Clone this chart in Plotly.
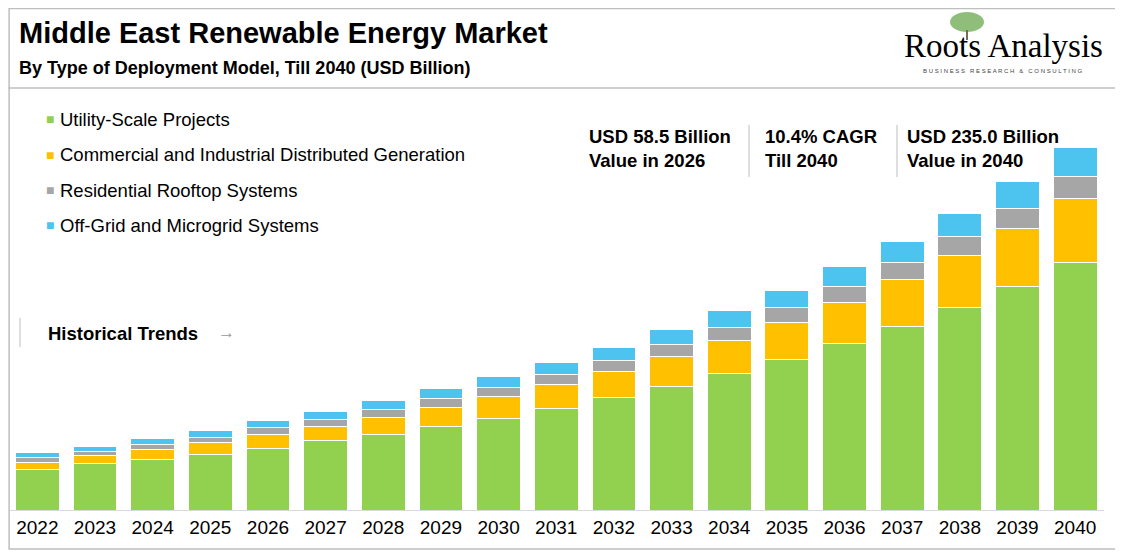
import plotly.graph_objects as go

years = [str(y) for y in range(2022, 2041)]
utility = [26.5, 29.8, 33.0, 36.2, 40.1, 44.7, 49.2, 54.4, 59.5, 66.0, 73.1, 80.3, 88.7, 97.7, 108.0, 119.0, 131.4, 145.0, 160.0]
commercial = [4.5, 5.2, 6.5, 7.8, 9.0, 9.7, 11.0, 12.3, 14.2, 15.5, 16.8, 19.4, 21.4, 23.9, 26.5, 30.4, 33.7, 37.5, 42.0]
residential = [3.2, 3.2, 3.2, 3.2, 4.5, 4.5, 5.2, 5.2, 5.8, 6.5, 7.1, 7.8, 8.4, 9.7, 10.4, 11.0, 12.3, 12.9, 14.2]
offgrid = [3.2, 3.2, 3.9, 4.5, 4.5, 5.2, 5.8, 6.5, 7.1, 7.8, 8.4, 9.7, 10.4, 11.0, 12.9, 13.6, 14.9, 17.5, 18.8]

names = ["Utility-Scale Projects", "Commercial and Industrial Distributed Generation",
         "Residential Rooftop Systems", "Off-Grid and Microgrid Systems"]
colors = ["#92d050", "#ffc000", "#a6a6a6", "#4dc3f0"]

# page body has an 8px margin, so the figure is drawn 8px in
OFF = 8
W, H = 1123 - OFF, 553 - OFF
def px(x): return (x - OFF) / W
def py(y): return 1 - (y - OFF) / H

fig = go.Figure()
for vals, name, col in zip([utility, commercial, residential, offgrid], names, colors):
    fig.add_bar(x=years, y=vals, name=name, marker_color=col,
                marker_line_color="white", marker_line_width=1)

fig.update_layout(
    barmode="stack", bargap=0.24, showlegend=False,
    width=W, height=H, margin=dict(l=0, r=0, t=0, b=0),
    plot_bgcolor="white", paper_bgcolor="white",
    font=dict(family="Arial, Liberation Sans", color="black"),
    xaxis=dict(domain=[px(8.5), px(1104)], showline=True, linecolor="#d9d9d9",
               tickfont=dict(size=19), ticks="", ticklen=0),
    yaxis=dict(domain=[py(510), py(124)], range=[0, 250], visible=False),
)

shapes = [
    dict(type="rect", xref="paper", yref="paper", x0=0.001, x1=px(1119), y0=py(549), y1=0.999,
         line=dict(color="#bfbfbf", width=1.5)),
    dict(type="line", xref="paper", yref="paper", x0=0, x1=px(1119), y0=py(88), y1=py(88),
         line=dict(color="#bfbfbf", width=1.5)),
    dict(type="line", xref="paper", yref="paper", x0=px(20), x1=px(20), y0=py(318), y1=py(347),
         line=dict(color="#bfbfbf", width=1)),
    dict(type="line", xref="paper", yref="paper", x0=px(749), x1=px(749), y0=py(125), y1=py(177),
         line=dict(color="#bfbfbf", width=1)),
    dict(type="line", xref="paper", yref="paper", x0=px(897), x1=px(897), y0=py(125), y1=py(177),
         line=dict(color="#bfbfbf", width=1)),
    dict(type="circle", xref="paper", yref="paper", x0=px(950), x1=px(984), y0=py(32), y1=py(12),
         fillcolor="#6aa84f", line_width=0, opacity=0.75),
    dict(type="line", xref="paper", yref="paper", x0=px(967), x1=px(967), y0=py(40), y1=py(30),
         line=dict(color="#7a6a55", width=2)),
]
fig.update_layout(shapes=shapes)

def ann(x, y, text, size, bold=False, color="black", family=None, xanchor="left"):
    fig.add_annotation(x=px(x), y=py(y), xref="paper", yref="paper", text=f"<b>{text}</b>" if bold else text,
                       showarrow=False, xanchor=xanchor, yanchor="middle", align="left",
                       font=dict(size=size, color=color, family=family or "Arial, Liberation Sans"))

ann(17, 33, "Middle East Renewable Energy Market", 29, bold=True)
ann(17, 68, "By Type of Deployment Model, Till 2040 (USD Billion)", 18, bold=True)
ann(1003, 46, "Roots Analysis", 33, family="Liberation Serif, DejaVu Serif", xanchor="center")
ann(1003, 71, "B U S I N E S S &nbsp; R E S E A R C H &nbsp; & &nbsp; C O N S U L T I N G", 6, color="#444", xanchor="center")

for i, (name, col) in enumerate(zip(names, colors)):
    y = 119 + i * 35.5
    ann(44, y, f"<span style='color:{col}'>■</span>", 14)
    ann(58, y, name, 18.5)

ann(46, 333, "Historical Trends", 18.5, bold=True)
ann(216, 332, "→", 17, color="#999")

ann(587, 148, "USD 58.5 Billion<br>Value in 2026", 18.5, bold=True)
ann(763, 148, "10.4% CAGR<br>Till 2040", 18.5, bold=True)
ann(905, 148, "USD 235.0 Billion<br>Value in 2040", 18.5, bold=True)

fig.write_html("out.html")
